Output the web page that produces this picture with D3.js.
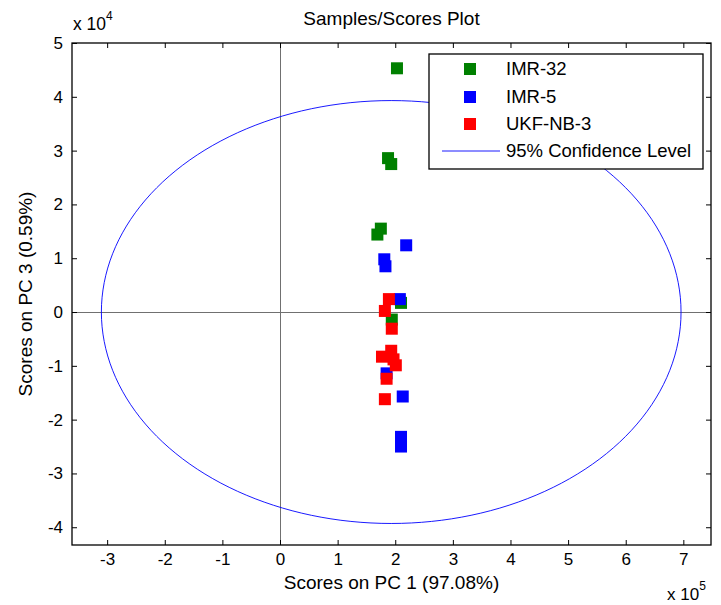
<!DOCTYPE html>
<html><head><meta charset="utf-8">
<script src="https://cdn.jsdelivr.net/npm/d3@7/dist/d3.min.js"></script>
<style>
html,body{margin:0;padding:0;background:#fff;}
text{font-family:"Liberation Sans",Arial,Helvetica,sans-serif;fill:#000;}
</style></head>
<body>
<svg id="chart" width="721" height="605"></svg>
<script>
// ---- data (PC1 scores in units of 1e5, PC3 scores in units of 1e4) ----
const seriesNames = ["IMR-32", "IMR-5", "UKF-NB-3"];
const seriesColors = ["#008000", "#0000ff", "#ff0000"];
const imr32PC1 = [2.03, 1.875, 1.93, 1.75, 1.69, 2.10, 1.94];
const imr32PC3 = [4.53, 2.86, 2.75, 1.55, 1.44, 0.17, -0.14];
const imr5PC1 = [2.19, 1.81, 1.83, 2.08, 1.85, 2.13, 2.10, 2.10];
const imr5PC3 = [1.24, 0.98, 0.85, 0.24, -1.14, -1.57, -2.32, -2.50];
const ukfPC1 = [1.89, 1.82, 1.94, 1.93, 1.77, 1.97, 2.01, 1.85, 1.82];
const ukfPC3 = [0.24, 0.02, -0.31, -0.72, -0.83, -0.88, -0.99, -1.24, -1.62];
const ellipseCenter = [1.93, 0.0];
const ellipseRadii = [5.03, 3.93];
const xTicks = [-3, -2, -1, 0, 1, 2, 3, 4, 5, 6, 7];
const yTicks = [-4, -3, -2, -1, 0, 1, 2, 3, 4, 5];
const xDomain = [-3.61, 7.48];
const yDomain = [-4.33, 5];
const titleText = "Samples/Scores Plot";
const xLabelText = "Scores on PC 1 (97.08%)";
const yLabelText = "Scores on PC 3 (0.59%)";
const confLabel = "95% Confidence Level";

const svg = d3.select("#chart");
const L = 72, R = 711, T = 43, B = 545;
const x = d3.scaleLinear().domain(xDomain).range([L, R]);
const y = d3.scaleLinear().domain(yDomain).range([B, T]);

// zero lines
svg.append("line").attr("x1", x(0)).attr("x2", x(0)).attr("y1", T).attr("y2", B)
  .attr("stroke", "#707070").attr("stroke-width", 1).attr("shape-rendering", "crispEdges");
svg.append("line").attr("x1", L).attr("x2", R).attr("y1", y(0)).attr("y2", y(0))
  .attr("stroke", "#707070").attr("stroke-width", 1).attr("shape-rendering", "crispEdges");

// ellipse
const angles = d3.range(0, 361, 2).map(d => d * Math.PI / 180);
const ell = d3.line().x(a => x(ellipseCenter[0] + ellipseRadii[0] * Math.cos(a)))
  .y(a => y(ellipseCenter[1] + ellipseRadii[1] * Math.sin(a)));
svg.append("path").attr("d", ell(angles)).attr("fill", "none")
  .attr("stroke", "#0000ff").attr("stroke-width", 0.9);

// points
const sz = 12;
const series = [[imr32PC1, imr32PC3], [imr5PC1, imr5PC3], [ukfPC1, ukfPC3]];
series.forEach((s, i) => {
  svg.append("g").selectAll("rect").data(s[0].map((v, j) => [v, s[1][j]])).join("rect")
    .attr("x", d => x(d[0]) - sz / 2).attr("y", d => y(d[1]) - sz / 2)
    .attr("width", sz).attr("height", sz).attr("fill", seriesColors[i]);
});

// axes with inward ticks on all sides
const fmt = d => String(d);
const gx = svg.append("g").attr("transform", `translate(0,${B})`)
  .call(d3.axisBottom(x).tickValues(xTicks).tickFormat(fmt).tickSizeInner(-5).tickSizeOuter(0).tickPadding(8));
const gxt = svg.append("g").attr("transform", `translate(0,${T})`)
  .call(d3.axisTop(x).tickValues(xTicks).tickFormat("").tickSizeInner(-5).tickSizeOuter(0));
const gy = svg.append("g").attr("transform", `translate(${L},0)`)
  .call(d3.axisLeft(y).tickValues(yTicks).tickFormat(fmt).tickSizeInner(-5).tickSizeOuter(0).tickPadding(9));
const gyr = svg.append("g").attr("transform", `translate(${R},0)`)
  .call(d3.axisRight(y).tickValues(yTicks).tickFormat("").tickSizeInner(-5).tickSizeOuter(0));
[gx, gxt, gy, gyr].forEach(g => {
  g.select(".domain").remove();
  g.selectAll("line").attr("stroke", "#000");
  g.selectAll("text").attr("font-size", 17).attr("font-family", "Liberation Sans, Arial, sans-serif").attr("fill", "#000");
});
svg.append("rect").attr("x", L).attr("y", T).attr("width", R - L).attr("height", B - T)
  .attr("fill", "none").attr("stroke", "#000").attr("stroke-width", 1.3);

// title and labels
svg.append("text").attr("x", (L + R) / 2).attr("y", 25).attr("text-anchor", "middle")
  .attr("font-size", 19).text(titleText);
svg.append("text").attr("x", (L + R) / 2).attr("y", 589).attr("text-anchor", "middle")
  .attr("font-size", 19).text(xLabelText);
svg.append("text").attr("transform", `translate(32,${(T + B) / 2}) rotate(-90)`)
  .attr("text-anchor", "middle").attr("font-size", 19).text(yLabelText);

// exponent labels
const e4 = svg.append("text").attr("x", 73).attr("y", 30).attr("font-size", 17.5);
e4.append("tspan").text("x 10");
e4.append("tspan").attr("dy", -10).attr("font-size", 12).text("4");
const e5 = svg.append("text").attr("x", 667).attr("y", 600).attr("font-size", 17);
e5.append("tspan").text("x 10");
e5.append("tspan").attr("dy", -10).attr("font-size", 12).text("5");

// legend
const lg = svg.append("g");
lg.append("rect").attr("x", 429).attr("y", 54).attr("width", 274).attr("height", 115)
  .attr("fill", "#fff").attr("stroke", "#000").attr("stroke-width", 1.3);
const rowY = [69, 97, 124, 151];
seriesNames.forEach((n, i) => {
  lg.append("rect").attr("x", 470 - 6).attr("y", rowY[i] - 6).attr("width", 12).attr("height", 12)
    .attr("fill", seriesColors[i]);
  lg.append("text").attr("x", 506).attr("y", rowY[i] + 6).attr("font-size", 18.5).text(n);
});
lg.append("line").attr("x1", 442).attr("x2", 500).attr("y1", rowY[3]).attr("y2", rowY[3])
  .attr("stroke", "#0000ff").attr("stroke-width", 0.9);
lg.append("text").attr("x", 506).attr("y", rowY[3] + 6).attr("font-size", 18.5).text(confLabel);
</script>
</body></html>
